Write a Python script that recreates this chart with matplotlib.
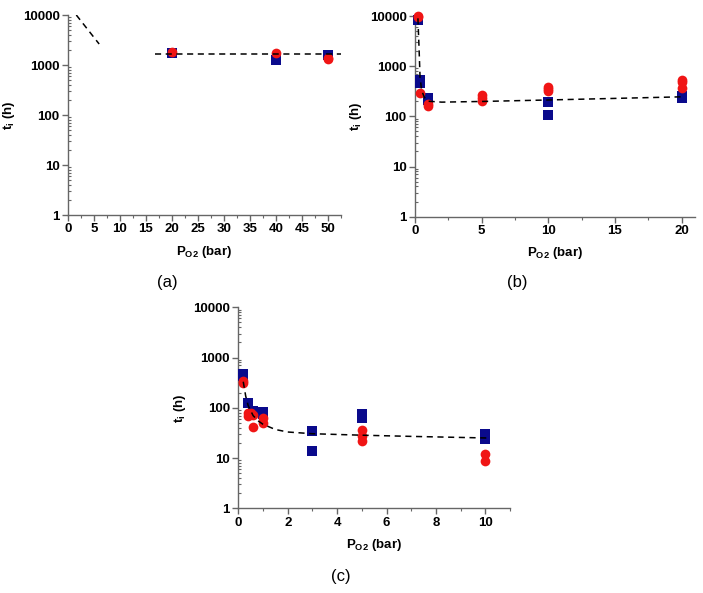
import matplotlib
matplotlib.use('Agg')
import matplotlib.pyplot as plt
from matplotlib.ticker import MultipleLocator, LogLocator, NullFormatter, FixedLocator

plt.rcParams['font.family'] = ['Liberation Sans', 'DejaVu Sans']
plt.rcParams['mathtext.fontset'] = 'custom'
plt.rcParams['mathtext.rm'] = 'Liberation Sans'
plt.rcParams['mathtext.bf'] = 'Liberation Sans:bold'

# panel (a)
a_blue_x = [20, 40, 50]
a_blue_y = [1750, 1250, 1550]
a_red_x = [20, 40, 50, 50]
a_red_y = [1830, 1720, 1400, 1300]
a_fit1_x = [1.6, 6.0]
a_fit1_y = [10000, 2630]
a_fit2_x = [16.7, 52.5]
a_fit2_y = [1630, 1630]

# panel (b)
b_blue_x = [0.25, 0.4, 0.4, 1, 1, 10, 10, 20, 20]
b_blue_y = [8400, 520, 455, 230, 210, 195, 106, 254, 230]
b_red_x = [0.25, 0.25, 0.4, 1, 1, 5, 5, 5, 10, 10, 10, 20, 20, 20]
b_red_y = [10000, 9500, 290, 175, 158, 265, 230, 205, 390, 345, 320, 525, 480, 365]
b_fit_x = [0.22, 0.3, 0.38, 0.5, 0.7, 1, 2, 5, 10, 20]
b_fit_y = [9000, 2500, 600, 330, 240, 200, 192, 198, 212, 245]

# panel (c)
c_blue_x = [0.2, 0.2, 0.4, 0.6, 1, 1, 3, 3, 5, 5, 10, 10]
c_blue_y = [480, 430, 123, 88, 84, 77, 35, 14, 75, 62, 30, 24]
c_red_x = [0.2, 0.2, 0.4, 0.4, 0.5, 0.6, 0.6, 1, 1, 5, 5, 5, 10, 10]
c_red_y = [340, 310, 78, 68, 80, 72, 42, 62, 50, 36, 27, 22, 12, 8.9]
c_fit_x = [0.2, 0.3, 0.4, 0.6, 0.8, 1, 1.5, 2, 3, 5, 7, 10.2]
c_fit_y = [330, 170, 110, 70, 55, 47, 37, 33, 30.5, 28.5, 27, 25]

blue = '#0a0a8c'
red = '#f01515'
spine = '#666666'

fig = plt.figure(figsize=(7.03, 5.93), dpi=100)
fig.patch.set_facecolor('white')

ax_a = fig.add_axes([0.0967, 0.6374, 0.388, 0.3373])
ax_b = fig.add_axes([0.5903, 0.6346, 0.3983, 0.3384])
ax_c = fig.add_axes([0.339, 0.1428, 0.3865, 0.339])


def style(ax, xmax, major, minor):
    ax.set_yscale('log')
    ax.set_ylim(1, 10000)
    ax.set_xlim(0, xmax)
    ax.xaxis.set_major_locator(MultipleLocator(major))
    ax.xaxis.set_minor_locator(MultipleLocator(minor))
    ax.yaxis.set_major_locator(FixedLocator([1, 10, 100, 1000, 10000]))
    ax.yaxis.set_minor_locator(LogLocator(base=10, subs=range(2, 10)))
    ax.yaxis.set_minor_formatter(NullFormatter())
    ax.set_yticklabels(['1', '10', '100', '1000', '10000'])
    for s in ['top', 'right']:
        ax.spines[s].set_visible(False)
    for s in ['left', 'bottom']:
        ax.spines[s].set_color(spine)
        ax.spines[s].set_linewidth(1.0)
    ax.tick_params(which='major', direction='out', length=4, width=1, color=spine,
                   labelsize=9.5, pad=2)
    ax.tick_params(axis='x', which='minor', direction='out', length=2, width=0.8, color=spine)
    ax.tick_params(axis='y', which='minor', direction='in', length=2.5, width=0.8, color=spine)
    for lab in ax.get_xticklabels() + ax.get_yticklabels():
        lab.set_fontweight('bold')
    ax.set_xlabel(r'$\mathbf{P_{O2}}$ (bar)', fontsize=9.5, fontweight='bold', labelpad=6)
    ax.set_ylabel(r'$\mathbf{t_i}$ (h)', fontsize=9.5, fontweight='bold', labelpad=4)


def points(ax, bx, by, rx, ry):
    ax.plot(bx, by, 's', color=blue, markersize=6.5, markeredgewidth=0, clip_on=False, zorder=3)
    ax.plot(rx, ry, 'o', color=red, markersize=7, markeredgewidth=0, clip_on=False, zorder=4)


style(ax_a, 52.5, 5, 2.5)
points(ax_a, a_blue_x, a_blue_y, a_red_x, a_red_y)
ax_a.plot(a_fit1_x, a_fit1_y, '--', color='black', lw=1.1, dashes=(4, 3), zorder=5)
ax_a.plot(a_fit2_x, a_fit2_y, '--', color='black', lw=1.1, dashes=(4, 3), zorder=5)

style(ax_b, 21, 5, 2.5)
points(ax_b, b_blue_x, b_blue_y, b_red_x, b_red_y)
ax_b.plot(b_fit_x, b_fit_y, '--', color='black', lw=1.1, dashes=(4, 3), zorder=5)

style(ax_c, 11, 2, 1)
points(ax_c, c_blue_x, c_blue_y, c_red_x, c_red_y)
ax_c.plot(c_fit_x, c_fit_y, '--', color='black', lw=1.1, dashes=(4, 3), zorder=5)

fig.text(167 / 703, 1 - 282 / 593, '(a)', fontsize=12, ha='center', va='center')
fig.text(517 / 703, 1 - 282 / 593, '(b)', fontsize=12, ha='center', va='center')
fig.text(341 / 703, 1 - 577 / 593, '(c)', fontsize=12, ha='center', va='center')

fig.savefig('out.png', dpi=100)
